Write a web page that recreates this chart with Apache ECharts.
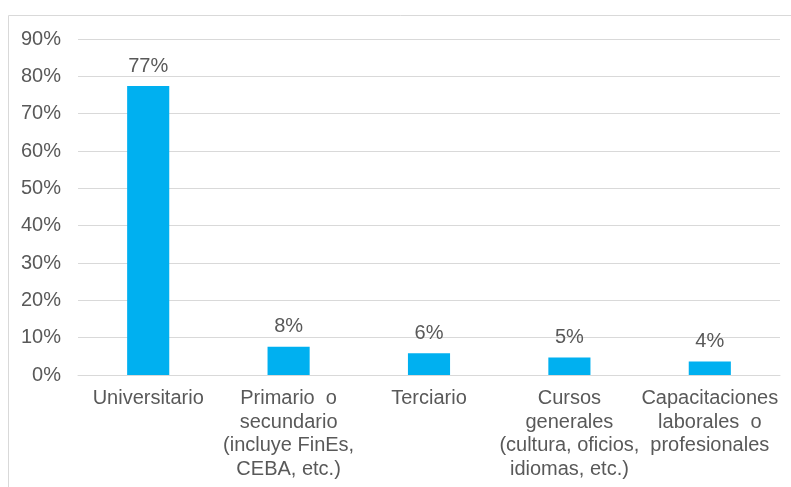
<!DOCTYPE html>
<html>
<head>
<meta charset="utf-8">
<script src="https://cdn.jsdelivr.net/npm/echarts@6/dist/echarts.min.js"></script>
<style>html,body{margin:0;padding:0;background:#fff;}#c{width:791px;height:487px;}</style>
</head>
<body>
<div id="c"></div>
<script>
var categories = [
  "Universitario",
  "Primario  o\nsecundario\n(incluye FinEs,\nCEBA, etc.)",
  "Terciario",
  "Cursos\ngenerales\n(cultura, oficios,\nidiomas, etc.)",
  "Capacitaciones\nlaborales  o\nprofesionales"
];
var values = [77.4, 7.6, 5.8, 4.7, 3.6];
var yMin = 0, yMax = 90, yStep = 10;

var chart = echarts.init(document.getElementById('c'));
var font = '"Liberation Sans", Arial, sans-serif';
chart.setOption({
  animation: false,
  graphic: [{
    type: 'rect', silent: true,
    shape: { x: 8.5, y: 15.5, width: 820, height: 520 },
    style: { fill: 'none', stroke: '#d9d9d9', lineWidth: 1 }
  }],
  grid: { left: 78, right: 11, top: 39, bottom: 112 },
  xAxis: {
    type: 'category',
    data: categories,
    axisTick: { show: false },
    axisLine: { show: true, lineStyle: { color: '#d9d9d9', width: 1 } },
    axisLabel: { interval: 0, color: '#595959', fontFamily: font, fontSize: 20, lineHeight: 23.5, margin: 12 }
  },
  yAxis: {
    type: 'value',
    min: yMin, max: yMax, interval: yStep,
    axisLine: { show: false },
    axisTick: { show: false },
    splitLine: { lineStyle: { color: '#d9d9d9', width: 1 } },
    axisLabel: { color: '#595959', fontFamily: font, fontSize: 20, margin: 17, formatter: function (v) { return v + '%'; } }
  },
  series: [{
    type: 'bar',
    data: values,
    barWidth: '30%',
    itemStyle: { color: '#00B0F0' },
    label: {
      show: true, position: 'top', distance: 10,
      color: '#595959', fontFamily: font, fontSize: 20,
      formatter: function (p) { return Math.round(p.value) + '%'; }
    }
  }]
});
</script>
</body>
</html>
